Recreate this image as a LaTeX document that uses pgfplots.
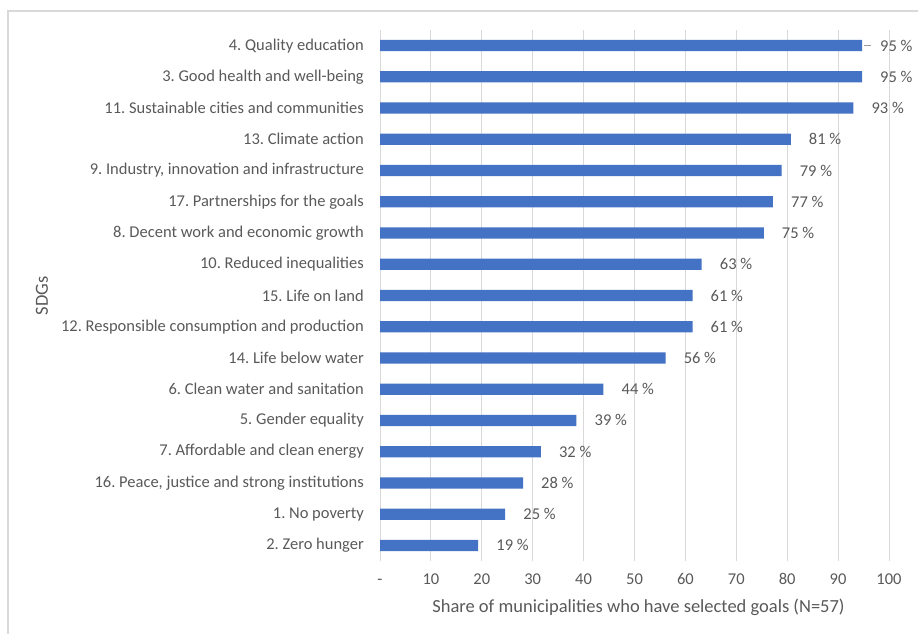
\documentclass[border=0pt]{standalone}
\usepackage{pgfplots}
\pgfplotsset{compat=1.18}
\usepackage{fontspec}
\setmainfont{Carlito}
\frenchspacing
\definecolor{barblue}{HTML}{4472C4}
\definecolor{textgray}{HTML}{595959}
\definecolor{gridgray}{HTML}{D9D9D9}
\begin{document}
\begin{tikzpicture}[font=\fontsize{16.5bp}{19bp}\selectfont]
\useasboundingbox (0,0) rectangle (918bp,634bp);
\draw[gridgray, line width=1.5bp] (8bp,0) -- (8bp,623bp) -- (918bp,623bp);
\node[rotate=90, text=textgray, font=\fontsize{18.5bp}{21bp}\selectfont] at (42bp,338bp) {SDGs};
\begin{axis}[
  at={(380bp,73bp)}, anchor=south west,
  width=509bp, height=531bp, scale only axis,
  xmin=0, xmax=100, ymin=-0.5, ymax=16.5,
  xbar, bar width=0.36,
  axis line style={draw=none},
  major tick length=0pt,
  xmajorgrids, grid style={gridgray, line width=1bp},
  xtick={0,10,...,100},
  xticklabels={-,10,20,30,40,50,60,70,80,90,100},
  ytick={0,...,16},
  yticklabels={
    2. Zero hunger,
    1. No poverty,
    {16. Peace, justice and strong institutions},
    7. Affordable and clean energy,
    5. Gender equality,
    6. Clean water and sanitation,
    14. Life below water,
    12. Responsible consumption and production,
    15. Life on land,
    10. Reduced inequalities,
    8. Decent work and economic growth,
    17. Partnerships for the goals,
    {9. Industry, innovation and infrastructure},
    13. Climate action,
    11. Sustainable cities and communities,
    3. Good health and well-being,
    4. Quality education},
  yticklabel style={text=textgray, inner sep=0pt, xshift=-16bp},
  xticklabel style={text=textgray, inner sep=0pt, text height=11bp, text depth=3bp, yshift=-12bp},
  xlabel={Share of municipalities who have selected goals (N=57)},
  xlabel style={text=textgray, font=\fontsize{18.5bp}{21bp}\selectfont, at={(axis description cs:0.5,0)}, anchor=center, yshift=-46bp, xshift=4bp},
  point meta=x,
  nodes near coords={\pgfmathprintnumber[fixed,precision=0,assume math mode=true]{\pgfplotspointmeta} \%},
  nodes near coords style={anchor=west, inner sep=0pt, xshift=18bp, text=textgray},
  clip=false,
]
\addplot[fill=barblue, draw=none] coordinates {
  (19.3,0) (24.6,1) (28.1,2) (31.6,3) (38.6,4) (43.9,5) (56.1,6) (61.4,7)
  (61.4,8) (63.2,9) (75.4,10) (77.2,11) (78.9,12) (80.7,13) (93.0,14) (94.7,15) (94.7,16)
};
\draw[textgray!60, line width=0.8bp] (axis cs:95.0,16) -- (axis cs:96.4,16);
\end{axis}
\end{tikzpicture}
\end{document}
